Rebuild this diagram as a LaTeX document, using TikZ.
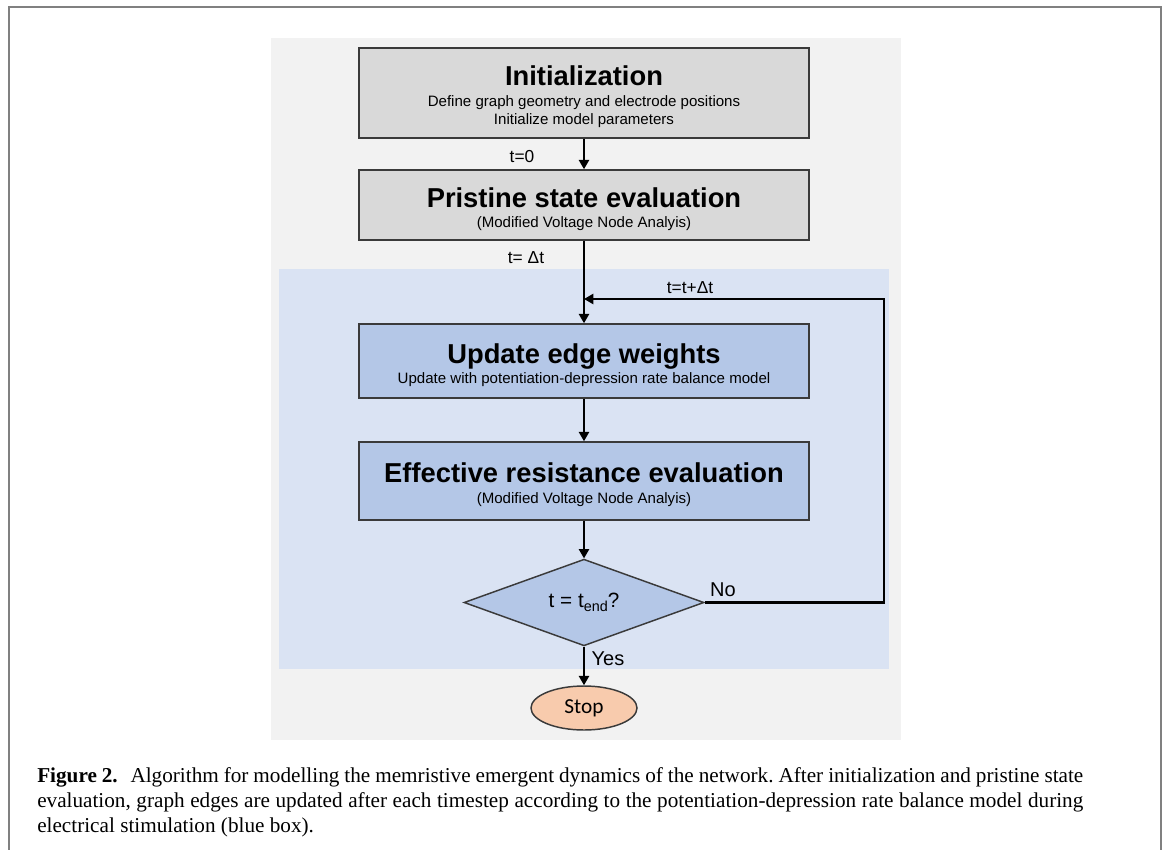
\documentclass[tikz,border=0pt]{standalone}
\usepackage{fontspec}
\setmainfont{Liberation Serif}
\newfontfamily\arial{Liberation Sans}
\newfontfamily\calib{Carlito}
\usetikzlibrary{arrows.meta,shapes.geometric}
\definecolor{panelgray}{HTML}{F2F2F2}
\definecolor{boxgray}{HTML}{D9D9D9}
\definecolor{bluebg}{HTML}{DAE3F3}
\definecolor{boxblue}{HTML}{B4C7E7}
\definecolor{stopfill}{HTML}{F8CBAD}
\definecolor{edgedark}{HTML}{3A3A3A}
\definecolor{framegray}{HTML}{808080}
\newcommand{\titlef}{\fontsize{20.5}{23}\selectfont\bfseries\rule{0pt}{21pt}}
\tikzset{
  procbox/.style={draw=edgedark, line width=1.1pt, minimum width=337.5pt, inner sep=0pt, align=center,
    font=\arial\fontsize{11.3}{13.5}\selectfont},
  graybox/.style={procbox, fill=boxgray},
  bluebox/.style={procbox, fill=boxblue},
  decision/.style={diamond, draw=edgedark, line width=1.1pt, fill=boxblue, minimum width=180pt, minimum height=65pt,
    aspect=2.76, inner sep=0pt, font=\arial\fontsize{15.5}{18}\selectfont},
  stopnode/.style={ellipse, draw=edgedark, line width=1.1pt, fill=stopfill, minimum width=79.5pt, minimum height=33pt,
    inner sep=0pt, font=\calib\fontsize{16}{18}\selectfont},
  arr/.style={line width=1.8pt, -{Triangle[width=7.5pt,length=7pt]}},
  lbl/.style={font=\arial\fontsize{13}{15}\selectfont, inner sep=0pt},
  yn/.style={font=\arial\fontsize{15}{18}\selectfont, inner sep=0pt},
  captxt/.style={anchor=base west, inner sep=0pt, font=\fontsize{15.9}{18}\selectfont\frenchspacing}
}
\begin{document}
\begin{tikzpicture}[x=0.75pt, y=-0.75pt]
\useasboundingbox (0,0) rectangle (1168,850);
\fill[white] (0,0) rectangle (1168,850);
% outer frame
\draw[framegray, line width=1.5pt] (9,850) -- (9,7) -- (1161,7) -- (1161,850);
% panels
\fill[panelgray] (271,38) rectangle (901,740);
\fill[bluebg] (279,269) rectangle (889,669);
% process boxes
\node[graybox, minimum height=67.5pt] (init) at (584,93)
  {{\titlef Initialization}\\[2.25pt]Define graph geometry and electrode positions\\Initialize model parameters};
\node[graybox, minimum height=52.5pt] (prist) at (584,205)
  {{\titlef Pristine state evaluation}\\[1.5pt](Modified Voltage Node Analyis)};
\node[bluebox, minimum height=55.5pt] (upd) at (584,361)
  {{\titlef Update edge weights}\\[1.5pt]Update with potentiation-depression rate balance model};
\node[bluebox, minimum height=58.5pt] (eff) at (584,481)
  {{\titlef Effective resistance evaluation}\\[2.25pt](Modified Voltage Node Analyis)};
\node[decision] (dia) at (584,602.5)
  {t = t\raisebox{-0.35ex}{\fontsize{10.8}{12}\selectfont end}?};
\node[stopnode] (stop) at (584,708) {Stop};
% junction coordinates
\coordinate (join) at (584,299);
\coordinate (loopT) at (884,299);
\coordinate (loopB) at (884,602.5);
% connectors
\draw[arr] (init.south) -- (prist.north);
\draw[arr] (prist.south) -- (upd.north);
\draw[arr] (upd.south) -- (eff.north);
\draw[arr] (eff.south) -- (dia.north);
\draw[arr] (dia.south) -- (stop.north);
\draw[arr] (dia.east) -- (loopB) -- (loopT) -- (join);
% labels
\node[lbl] (l0) at (522,157) {t=0};
\node[lbl] (l1) at (526,258) {t= Δt};
\node[lbl] (l2) at (690,288) {t=t+Δt};
\node[yn] (lno) at (723,590) {No};
\node[yn] (lyes) at (608,659) {Yes};
% caption
\node[captxt] (c1) at (37,782) {\hbox to 784.5pt{\textbf{Figure 2.}\hspace{0.6em}Algorithm for modelling the memristive emergent dynamics of the network. After initialization and pristine state}};
\node[captxt] (c2) at (37,807) {\hbox to 784.5pt{evaluation, graph edges are updated after each timestep according to the potentiation-depression rate balance model during}};
\node[captxt] (c3) at (37,832) {electrical stimulation (blue box).};
\end{tikzpicture}
\end{document}
